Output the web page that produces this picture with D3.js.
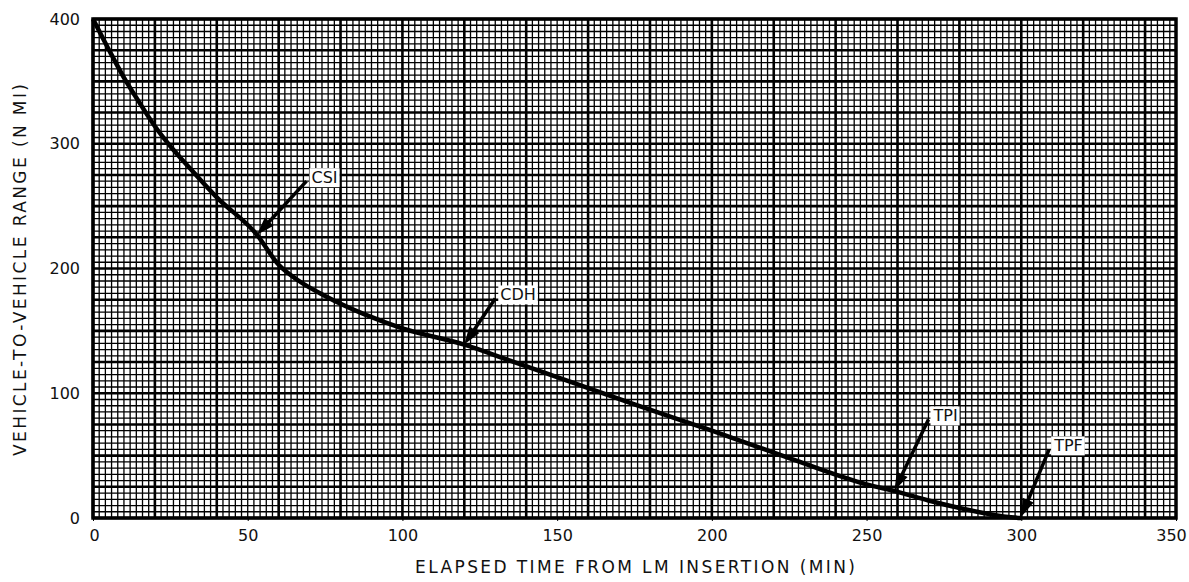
<!DOCTYPE html>
<html><head><meta charset="utf-8">
<script src="https://cdn.jsdelivr.net/npm/d3@7"></script>
<style>body{margin:0;background:#fff}svg{display:block}text{font-family:"DejaVu Sans",sans-serif;fill:#111}</style>
</head><body><svg id="c" width="1189" height="582"></svg>
<script>
const timeMin = [0, 5, 10, 15, 20, 25, 30, 40, 53, 60, 66, 75, 88, 100, 120, 135, 150, 175, 200, 225, 250, 260, 270, 280, 290, 295, 300];
const rangeNmi = [400, 376, 353, 333, 314, 298, 284, 257, 227, 203, 191, 178, 163, 152, 139, 126, 113, 91, 70, 48, 27, 21, 14, 8, 3, 1, 0];
const xTicks = [0, 50, 100, 150, 200, 250, 300, 350];
const yTicks = [0, 100, 200, 300, 400];
const eventLabels = ["CSI", "CDH", "TPI", "TPF"];
const eventTip = [[53, 227], [120, 139], [259, 22], [300, 1]];
const eventTail = [[69, 270], [130, 176], [270, 79], [309, 55]];
const xTitle = "ELAPSED TIME FROM LM INSERTION (MIN)";
const yTitle = "VEHICLE-TO-VEHICLE RANGE (N MI)";

const svg = d3.select("#c");
const L = 93, R = 1176, T = 19, B = 518;
const x = d3.scaleLinear().domain([0, 350]).range([L, R]);
const y = d3.scaleLinear().domain([0, 400]).range([B, T]);

const g = svg.append("g");
const minorX = d3.range(0, 351, 2), minorY = d3.range(0, 401, 5);
g.selectAll(".mx").data(minorX).enter().append("line")
  .attr("x1", d => x(d)).attr("x2", d => x(d)).attr("y1", T).attr("y2", B)
  .attr("stroke", "#000").attr("stroke-width", d => d % 20 === 0 ? 2.6 : 1.3);
g.selectAll(".my").data(minorY).enter().append("line")
  .attr("y1", d => y(d)).attr("y2", d => y(d)).attr("x1", L).attr("x2", R)
  .attr("stroke", "#000").attr("stroke-width", d => d % 25 === 0 ? 2.6 : 1.3);
g.append("rect").attr("x", L).attr("y", T).attr("width", R - L).attr("height", B - T)
  .attr("fill", "none").attr("stroke", "#000").attr("stroke-width", 3.5);

const xa = svg.append("g").attr("transform", `translate(0,${B})`)
  .call(d3.axisBottom(x).tickValues(xTicks).tickSize(3).tickPadding(9).tickFormat(d3.format("d")));
const ya = svg.append("g").attr("transform", `translate(${L},0)`)
  .call(d3.axisLeft(y).tickValues(yTicks).tickSize(0).tickPadding(13).tickFormat(d3.format("d")));
[xa, ya].forEach(a => { a.select(".domain").remove(); a.selectAll("text").attr("font-size", 16).attr("font-family", "DejaVu Sans"); a.selectAll("line").attr("stroke", "#000"); });
xa.selectAll("text").filter(d => d === 350).attr("dx", -5);
xa.selectAll("text").filter(d => d === 0).attr("dx", 1);

const pts = timeMin.map((t, i) => [t, rangeNmi[i]]);
svg.append("path").datum(pts)
  .attr("d", d3.line().x(d => x(d[0])).y(d => y(d[1])).curve(d3.curveMonotoneX))
  .attr("fill", "none").attr("stroke", "#000").attr("stroke-width", 4.5);

eventLabels.forEach((lab, i) => {
  const [tx, ty] = eventTip[i], [sx, sy] = eventTail[i];
  const x1 = x(sx), y1 = y(sy), x2 = x(tx), y2 = y(ty);
  const ang = Math.atan2(y2 - y1, x2 - x1);
  svg.append("line").attr("x1", x1).attr("y1", y1).attr("x2", x2 - 10 * Math.cos(ang)).attr("y2", y2 - 10 * Math.sin(ang))
    .attr("stroke", "#000").attr("stroke-width", 3.5);
  const hl = 18, hw = 6;
  const bx = x2 - hl * Math.cos(ang), by = y2 - hl * Math.sin(ang);
  svg.append("path").attr("d", `M${x2},${y2}L${bx + hw * Math.sin(ang)},${by - hw * Math.cos(ang)}L${bx - hw * Math.sin(ang)},${by + hw * Math.cos(ang)}Z`).attr("fill", "#000");
  const t = svg.append("text").attr("x", x1 + 5).attr("y", y1 + 2).attr("font-size", 16).text(lab);
  const bb = t.node().getBBox();
  svg.insert("rect", () => t.node()).attr("x", bb.x - 2).attr("y", bb.y).attr("width", bb.width + 4).attr("height", bb.height).attr("fill", "#fff");
});

svg.append("text").attr("x", 415).attr("y", 573).attr("font-size", 17)
  .attr("textLength", 440).attr("lengthAdjust", "spacing").text(xTitle);
svg.append("text").attr("transform", `translate(26,456) rotate(-90)`).attr("font-size", 17)
  .attr("textLength", 372).attr("lengthAdjust", "spacing").text(yTitle);
</script></body></html>
